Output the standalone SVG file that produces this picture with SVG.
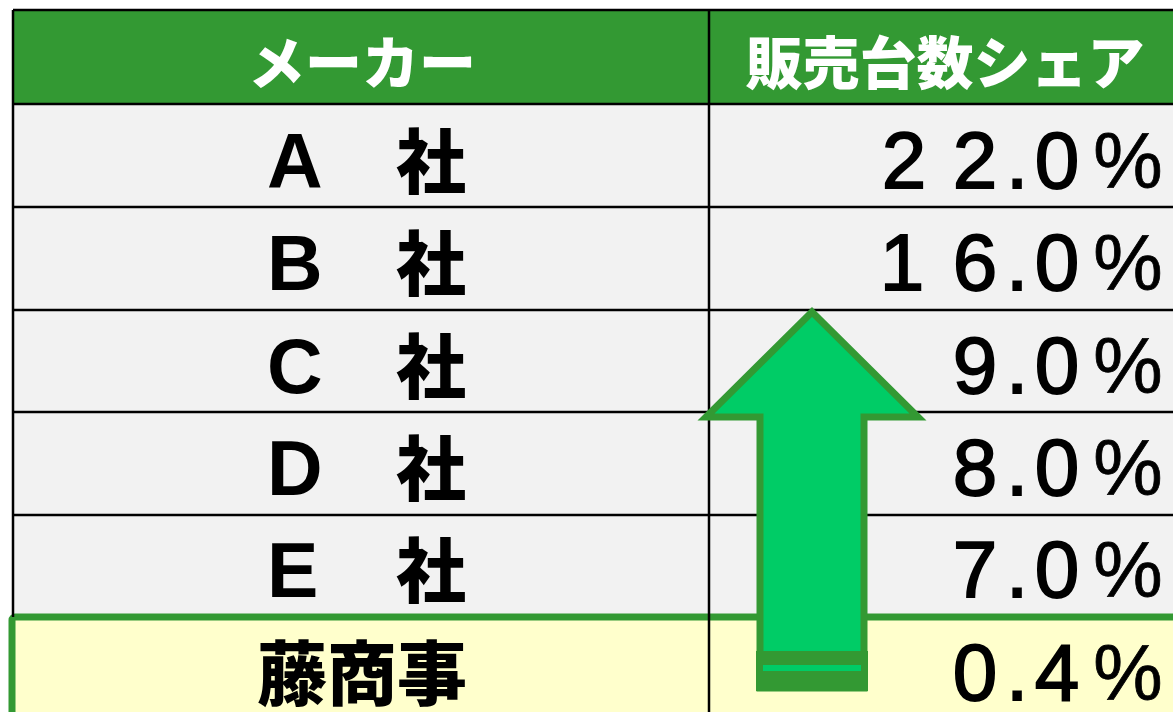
<svg xmlns="http://www.w3.org/2000/svg" width="1173" height="712" viewBox="0 0 1173 712">
<style>
.hdr{fill:#339933}
.row{fill:#F2F2F2}
.grid{stroke:#000;stroke-width:2.5;fill:none}
.ht{font-family:"Noto Sans CJK JP","Noto Sans",sans-serif;font-weight:900;font-size:57px;fill:#fff;text-anchor:middle}
.lt{font-family:"Noto Sans CJK JP","Noto Sans",sans-serif;font-weight:900;font-size:70px;fill:#000}
.lat{font-family:"Liberation Sans",Arial,sans-serif;font-weight:700;font-size:77px}
.nt{font-family:"Liberation Sans",Arial,sans-serif;font-weight:400;font-size:80px;fill:#000;stroke:#000;stroke-width:1.8;text-anchor:middle}
.pc{font-family:"Liberation Sans Narrow","Liberation Sans",Arial,sans-serif;font-size:78px;stroke-width:0.8}
</style>
<rect width="1173" height="712" fill="#fff"/>
<g id="table">
<rect class="hdr" x="13" y="10" width="1165" height="94"/>
<rect class="row" x="13" y="104" width="1165" height="514"/>
<rect x="12" y="617" width="1170" height="100" fill="#FFFFCC" stroke="#339933" stroke-width="7" rx="3"/>
<g class="grid">
<line x1="13" y1="10" x2="1178" y2="10"/>
<line x1="13" y1="10" x2="13" y2="617"/>
<line x1="709" y1="10" x2="709" y2="712"/>
<line x1="13" y1="104" x2="1178" y2="104"/>
<line x1="13" y1="207" x2="1178" y2="207"/>
<line x1="13" y1="310" x2="1178" y2="310"/>
<line x1="13" y1="412" x2="1178" y2="412"/>
<line x1="13" y1="515" x2="1178" y2="515"/>
</g>
</g>
<g id="header">
<text class="ht" x="362" y="84">メーカー</text>
<text class="ht" x="945" y="84">販売台数シェア</text>
</g>
<g id="row-a"><text class="lt" x="267" y="188"><tspan class="lat">A</tspan>　<tspan x="396">社</tspan></text><text class="nt" x="904 975 1017 1057" y="188">22.0<tspan class="pc" x="1128">%</tspan></text></g>
<g id="row-b"><text class="lt" x="267" y="290"><tspan class="lat">B</tspan>　<tspan x="396">社</tspan></text><text class="nt" x="902 975 1017 1057" y="290">16.0<tspan class="pc" x="1128">%</tspan></text></g>
<g id="row-c"><text class="lt" x="267" y="393"><tspan class="lat">C</tspan>　<tspan x="396">社</tspan></text><text class="nt" x="975 1017 1057" y="393">9.0<tspan class="pc" x="1128">%</tspan></text></g>
<g id="row-d"><text class="lt" x="267" y="495"><tspan class="lat">D</tspan>　<tspan x="396">社</tspan></text><text class="nt" x="975 1017 1057" y="495">8.0<tspan class="pc" x="1128">%</tspan></text></g>
<g id="row-e"><text class="lt" x="267" y="597"><tspan class="lat">E</tspan>　<tspan x="396">社</tspan></text><text class="nt" x="975 1017 1057" y="597">7.0<tspan class="pc" x="1128">%</tspan></text></g>
<g id="row-fuji"><text class="lt" x="362" y="700" text-anchor="middle">藤商事</text><text class="nt" x="975 1017 1057" y="700">0.4<tspan class="pc" x="1128">%</tspan></text></g>
<g id="connectors">
<g id="arrow">
<polygon points="812,312 918,417 864,417 864,688 760,688 760,417 706,417" fill="#00CC66" stroke="#339933" stroke-width="7"/>
<rect x="756" y="651" width="112" height="40" fill="#339933"/>
<rect x="763" y="665" width="98" height="6" fill="#00CC66"/>
</g>
</g>
</svg>
